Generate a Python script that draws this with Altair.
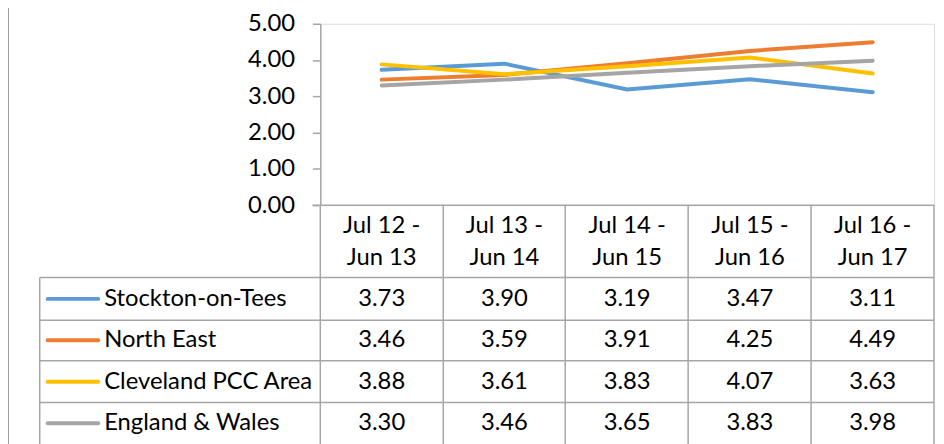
import altair as alt
import pandas as pd

categories = ["Jul 12 -\nJun 13", "Jul 13 -\nJun 14", "Jul 14 -\nJun 15", "Jul 15 -\nJun 16", "Jul 16 -\nJun 17"]
series_names = ["Stockton-on-Tees", "North East", "Cleveland PCC Area", "England & Wales"]
stockton = [3.73, 3.90, 3.19, 3.47, 3.11]
north_east = [3.46, 3.59, 3.91, 4.25, 4.49]
cleveland = [3.88, 3.61, 3.83, 4.07, 3.63]
england_wales = [3.30, 3.46, 3.65, 3.83, 3.98]
colors = ["#5B9BD5", "#ED7D31", "#FFC000", "#A5A5A5"]

FONT = "Lato"
FS = 24
GRID = "#a6a6a6"

rows = []
for name, vals in zip(series_names, [stockton, north_east, cleveland, england_wales]):
    for c, v in zip(categories, vals):
        rows.append({"category": c, "series": name, "value": v})
df = pd.DataFrame(rows)
cat_df = pd.DataFrame({"category": categories})
ser_df = pd.DataFrame({"series": series_names})
one = pd.DataFrame({"k": [0]})

W, H = 619, 183

xs = alt.Scale(type="point", domain=categories, padding=0.5)
color_scale = alt.Scale(domain=series_names, range=colors)
row_scale = alt.Scale(type="point", domain=series_names, range=[277.5, 403], padding=0)

lines = alt.Chart(df).mark_line(strokeWidth=4, strokeCap="round").encode(
    x=alt.X("category:N", scale=xs, axis=None, sort=categories),
    y=alt.Y("value:Q", scale=alt.Scale(domain=[0, 5]),
            axis=alt.Axis(values=[0, 1, 2, 3, 4, 5], format=".2f", title=None, grid=False,
                          labelFont=FONT, labelFontSize=24, labelColor="#000000",
                          tickSize=8, tickColor=GRID, domainColor=GRID, domainWidth=1.5,
                          tickWidth=1.5, labelPadding=18)),
    color=alt.Color("series:N", scale=color_scale, legend=None),
    order=alt.Order("series_order:Q"),
).transform_calculate(series_order="indexof(%s, datum.series)" % str(series_names))

def rule(x1, x2, y1, y2, w=1.5, col=GRID):
    return alt.Chart(one).mark_rule(strokeWidth=w, color=col).encode(
        x=alt.value(x1), x2=alt.value(x2), y=alt.value(y1), y2=alt.value(y2))

BOTTOM = 440
rules = [
    rule(-8, 619, 183, 183),
    rule(-283, 619, 256, 256),
    rule(-283, 619, 299, 299),
    rule(-283, 619, 340, 340),
    rule(-283, 619, 382, 382),
    rule(-283, -283, 256, BOTTOM),
    rule(0, 0, 183, BOTTOM),
    rule(124, 124, 183, BOTTOM),
    rule(247, 247, 183, BOTTOM),
    rule(371, 371, 183, BOTTOM),
    rule(495, 495, 183, BOTTOM),
    rule(619, 619, 183, BOTTOM),
    # outer chart border
    rule(-315, 625, -17, -17, 2, "#a0a0a0"),
    rule(-315, -315, -17, BOTTOM, 2, "#a0a0a0"),
]

header = alt.Chart(cat_df).mark_text(font=FONT, fontSize=FS, color="#000000", lineBreak="\n",
                                     lineHeight=32, baseline="middle", align="center").encode(
    x=alt.X("category:N", scale=xs, axis=None, sort=categories),
    y=alt.value(204),
    text="category:N",
)

values_txt = alt.Chart(df).mark_text(font=FONT, fontSize=FS, color="#000000", baseline="middle",
                                     align="center").encode(
    x=alt.X("category:N", scale=xs, axis=None, sort=categories),
    y=alt.Y("series:N", scale=row_scale, axis=None),
    text=alt.Text("value:Q", format=".2f"),
)

legend_sw = alt.Chart(ser_df).mark_rule(strokeWidth=4, strokeCap="round").encode(
    x=alt.value(-275), x2=alt.value(-224),
    y=alt.Y("series:N", scale=row_scale, axis=None),
    color=alt.Color("series:N", scale=color_scale, legend=None),
)

legend_lbl = alt.Chart(ser_df).mark_text(font=FONT, fontSize=FS, color="#000000", baseline="middle",
                                         align="left").encode(
    x=alt.value(-218),
    y=alt.Y("series:N", scale=row_scale, axis=None),
    text="series:N",
)

chart = alt.layer(*rules, lines, header, values_txt, legend_sw, legend_lbl).resolve_scale(
    y="independent"
).properties(
    width=W, height=H,
    autosize=alt.AutoSizeParams(type="none"),
    padding={"left": 315, "top": 14, "right": 2, "bottom": 240},
).configure_view(stroke=None).configure(background="#ffffff")

chart.save("out.html", embed_options={"renderer": "svg", "actions": False})
